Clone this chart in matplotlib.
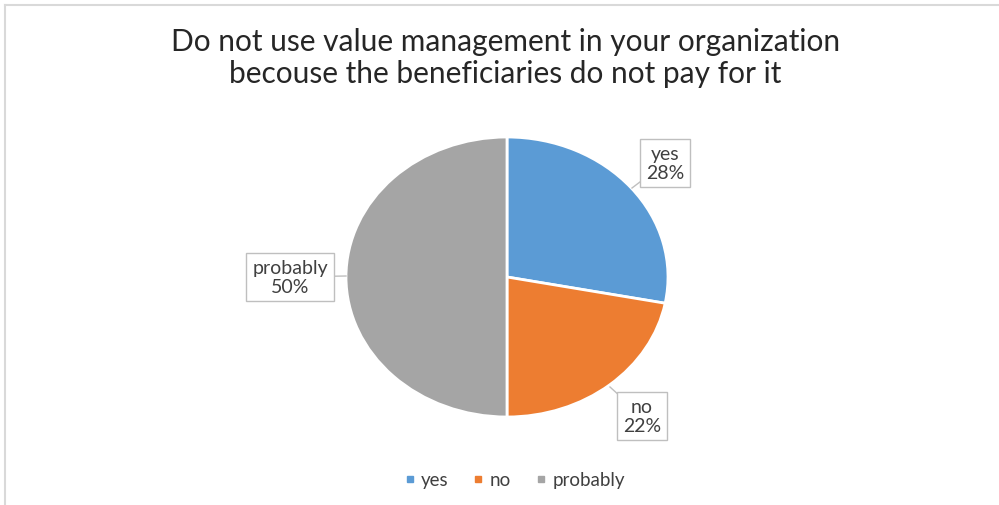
import matplotlib
matplotlib.use("Agg")
import matplotlib.pyplot as plt
from matplotlib.lines import Line2D

categories = ["yes", "no", "probably"]
values = [28, 22, 50]
colors = ["#5B9BD5", "#ED7D31", "#A5A5A5"]
title = "Do not use value management in your organization\nbecouse the beneficiaries do not pay for it"

plt.rcParams['font.family'] = ['Lato', 'DejaVu Sans']
W, H = 999, 506
fig = plt.figure(figsize=(W / 100, H / 100), dpi=100)

def fx(x):
    return x / W

def fy(y):
    return 1 - y / H

# chart border (top and left visible)
fig.add_artist(Line2D([fx(5), fx(5)], [fy(6), 0], color="#D9D9D9", lw=1.5, transform=fig.transFigure))
fig.add_artist(Line2D([fx(5), 1], [fy(6), fy(6)], color="#D9D9D9", lw=1.5, transform=fig.transFigure))

cx, cy, rx, ry = 507, 278, 161, 140
ax = fig.add_axes([fx(cx - rx), fy(cy + ry), 2 * rx / W, 2 * ry / H])
ax.pie(values, colors=colors, startangle=90, counterclock=False,
       wedgeprops=dict(edgecolor="white", linewidth=2))
ax.set_aspect('auto')
ax.set_xlim(-1, 1)
ax.set_ylim(-1, 1)

fig.text(0.506, fy(58), title, ha="center", va="center", fontsize=21.5,
         color="#262626", linespacing=1.2)

# callout labels: (box center px, tip px)
label_pos = [((665, 164), (632, 189)), ((642, 417), (610, 388)), ((290, 278), (346, 277))]
for cat, v, (bc, tip) in zip(categories, values, label_pos):
    fig.text(fx(bc[0]), fy(bc[1]), f"{cat}\n{v}%", ha="center", va="center",
             fontsize=14, color="#404040", linespacing=1.1,
             bbox=dict(boxstyle="square,pad=0.32", fc="white", ec="#BFBFBF", lw=1), zorder=5)
    fig.add_artist(Line2D([fx(tip[0]), fx(bc[0] + (tip[0] - bc[0]) * 0.55)],
                          [fy(tip[1]), fy(bc[1] + (tip[1] - bc[1]) * 0.55)],
                          color="#BFBFBF", lw=1, transform=fig.transFigure, zorder=4))

handles = [Line2D([], [], marker="s", ls="", color=c, markersize=5) for c in colors]
fig.legend(handles, categories, loc="center", bbox_to_anchor=(0.512, fy(481)), ncol=3,
           frameon=False, fontsize=13.5, handletextpad=0.0, columnspacing=1.0,
           handlelength=1.2, labelcolor="#404040")

fig.savefig("out.png", dpi=100)
